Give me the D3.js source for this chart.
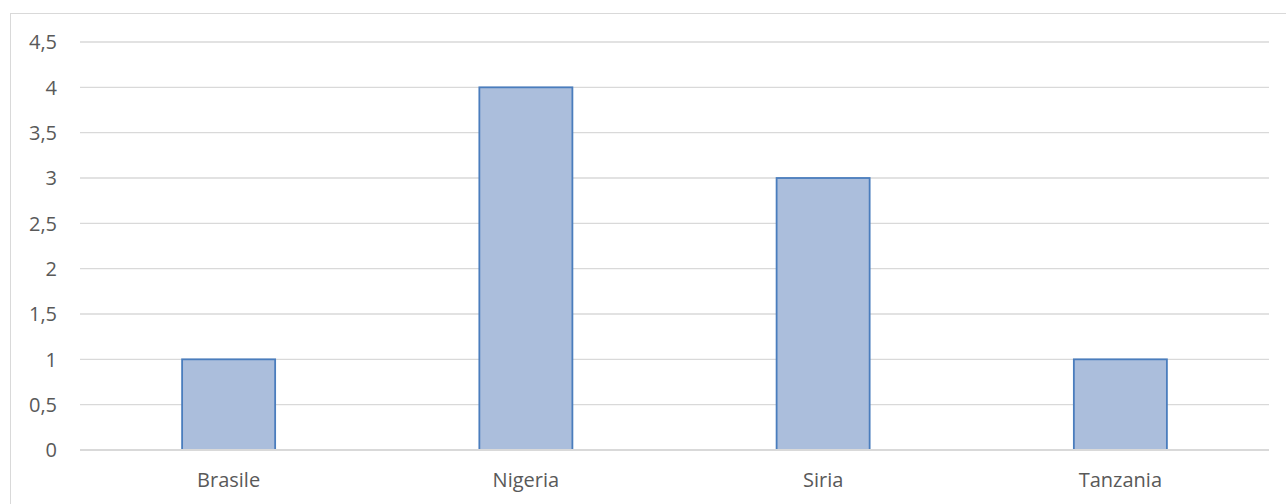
<!DOCTYPE html>
<html>
<head>
<meta charset="utf-8">
<script src="https://cdn.jsdelivr.net/npm/d3@7"></script>
<style>
  body { margin: 0; background: #fff; }
  text { font-family: "Open Sans", sans-serif; fill: #595959; }
</style>
</head>
<body>
<svg id="chart" width="1286" height="504"></svg>
<script>
const categories = ['Brasile', 'Nigeria', 'Siria', 'Tanzania'];
const values = [1, 4, 3, 1];
const yTicks = [0, 0.5, 1, 1.5, 2, 2.5, 3, 3.5, 4, 4.5];

const svg = d3.select('#chart');

// outer chart frame (runs off the right / bottom of the shot)
svg.append('rect')
  .attr('x', 10.5).attr('y', 13.5)
  .attr('width', 1290).attr('height', 500)
  .attr('fill', 'none')
  .attr('stroke', '#d9d9d9')
  .attr('stroke-width', 1);

const xScale = d3.scaleBand()
  .domain(categories)
  .range([80, 1269])
  .paddingInner(0.687)
  .paddingOuter(0.3435);

const yScale = d3.scaleLinear()
  .domain([0, 4.5])
  .range([450, 42]);

const fmt = d => String(d).replace('.', ',');

// gridlines
svg.append('g')
  .selectAll('line')
  .data(yTicks.filter(d => d > 0))
  .join('line')
  .attr('x1', 80).attr('x2', 1269)
  .attr('y1', d => yScale(d)).attr('y2', d => yScale(d))
  .attr('stroke', '#d9d9d9')
  .attr('stroke-width', 1.3);

// y labels
svg.append('g')
  .selectAll('text')
  .data(yTicks)
  .join('text')
  .attr('x', 57)
  .attr('y', d => yScale(d))
  .attr('dy', '0.36em')
  .attr('text-anchor', 'end')
  .style('font-size', '20px')
  .text(fmt);

// bars
svg.append('g')
  .selectAll('rect')
  .data(values)
  .join('rect')
  .attr('x', (d, i) => xScale(categories[i]))
  .attr('y', d => yScale(d))
  .attr('width', xScale.bandwidth())
  .attr('height', d => yScale(0) - yScale(d))
  .attr('fill', '#abbedc')
  .attr('stroke', '#4a7dbd')
  .attr('stroke-width', 1.8);

// baseline
svg.append('line')
  .attr('x1', 80).attr('x2', 1269)
  .attr('y1', yScale(0)).attr('y2', yScale(0))
  .attr('stroke', '#d9d9d9')
  .attr('stroke-width', 2);

// x labels
svg.append('g')
  .selectAll('text')
  .data(categories)
  .join('text')
  .attr('x', d => xScale(d) + xScale.bandwidth() / 2)
  .attr('y', 487)
  .attr('text-anchor', 'middle')
  .style('font-size', '20px')
  .text(d => d);
</script>
</body>
</html>
